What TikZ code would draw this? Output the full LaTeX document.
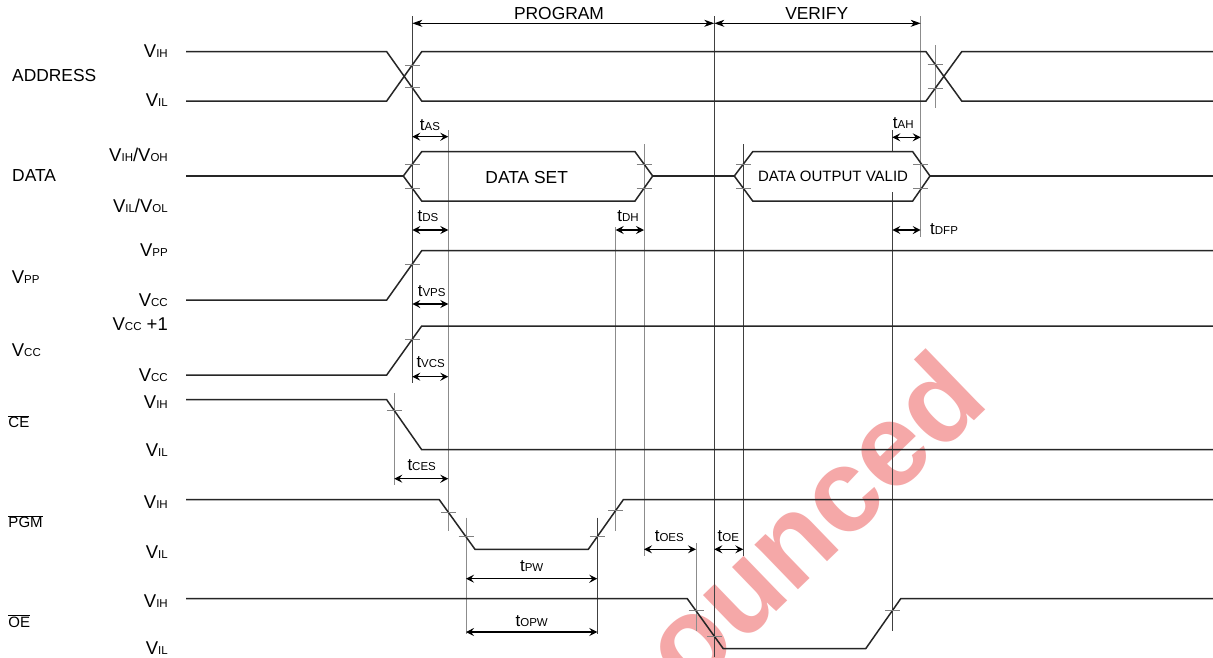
\documentclass[tikz,border=0pt]{standalone}
\usepackage{fontspec}
\setmainfont{Liberation Sans}
\usetikzlibrary{arrows.meta}
\newcommand{\bgf}{\fontsize{18.5}{20}\selectfont}
\newcommand{\smf}{\fontsize{11.5}{13}\selectfont}
\newcommand{\tfn}{\fontsize{17}{18}\selectfont}
\newcommand{\tlab}[1]{{\tfn t}{\smf #1}}
\newcommand{\vlab}[1]{{\bgf V}{\smf #1}}
\newcommand{\ovl}[1]{$\overline{\hbox{#1}}$}
\definecolor{wmcol}{RGB}{245,168,168}
\begin{document}
\begin{tikzpicture}[x=1pt,y=-1pt,
  sigw/.style={line width=1.5pt, draw=black!85, line join=miter},
  vdark/.style={line width=0.8pt, draw=black!75},
  vgrey/.style={line width=1pt, draw=black!45},
  tk/.style={line width=0.8pt, draw=black!50},
  dimarr/.style={line width=1.2pt, {Stealth[length=8pt,width=8pt,inset=3pt]}-{Stealth[length=8pt,width=8pt,inset=3pt]}},
  bigarr/.style={line width=0.9pt, {Stealth[length=10pt,width=7pt,inset=3pt]}-{Stealth[length=10pt,width=7pt,inset=3pt]}},
  lvl/.style={anchor=east, inner sep=0pt},
  signame/.style={anchor=west, inner sep=0pt, font=\fontsize{17.4}{20}\selectfont},
  signamesm/.style={anchor=west, inner sep=0pt, font=\fontsize{15}{17}\selectfont},
  tlbl/.style={inner sep=0pt},
  bigtxt/.style={inner sep=0pt, font=\fontsize{17.4}{20}\selectfont},
  wmark/.style={inner sep=0pt, text=wmcol, font=\fontsize{118}{118}\selectfont\bfseries}
]
\useasboundingbox (0,0) rectangle (1213,657);
\fill[white] (0,0) rectangle (1213,657);

% watermark
\begin{scope}
\clip (0,0) rectangle (1213,657);
\node[wmark, rotate=44, anchor=base west] (wm) at (524,855) {Announced};
\end{scope}

% signal names
\node[signame] (nAddr) at (12,76) {ADDRESS};
\node[signame] (nData) at (12,176) {DATA};
\node[signame] (nVpp) at (11.7,276.7) {\vlab{PP}};
\node[signame] (nVcc) at (11.7,350) {\vlab{CC}};
\node[signamesm] (nCE) at (8.3,421.5) {\ovl{CE}};
\node[signamesm] (nPGM) at (8.3,521.5) {\ovl{PGM}};
\node[signamesm] (nOE) at (8.3,621) {\ovl{OE}};

% level labels
\node[lvl] (l1) at (168,51.5) {\vlab{IH}};
\node[lvl] (l2) at (168,100.5) {\vlab{IL}};
\node[lvl] (l3) at (168,154.7) {\vlab{IH}{\bgf /}\vlab{OH}};
\node[lvl] (l4) at (168,205.5) {\vlab{IL}{\bgf /}\vlab{OL}};
\node[lvl] (l5) at (168,250) {\vlab{PP}};
\node[lvl] (l6) at (168,300) {\vlab{CC}};
\node[lvl] (l7) at (168,324) {\vlab{CC}{\bgf\ +1}};
\node[lvl] (l8) at (168,375) {\vlab{CC}};
\node[lvl] (l9) at (168,401.7) {\vlab{IH}};
\node[lvl] (l10) at (168,450) {\vlab{IL}};
\node[lvl] (l11) at (168,501.7) {\vlab{IH}};
\node[lvl] (l12) at (168,551.7) {\vlab{IL}};
\node[lvl] (l13) at (168,600.7) {\vlab{IH}};
\node[lvl] (l14) at (168,648.3) {\vlab{IL}};

% vertical reference lines
\draw[vdark] (412.3,16) -- (412.3,383);
\draw[vdark] (714.3,16) -- (714.3,657);
\draw[vdark] (743.3,144) -- (743.3,556.3);
\draw[vdark] (892.3,130) -- (892.3,152);
\draw[vdark] (892.3,192) -- (892.3,631);
\draw[vdark] (597.3,517.7) -- (597.3,634);
\draw[vgrey] (448.3,130) -- (448.3,531);
\draw[vgrey] (394.3,393) -- (394.3,485.3);
\draw[vgrey] (615.7,227) -- (615.7,531);
\draw[vgrey] (644,144) -- (644,556);
\draw[vgrey] (466,517.7) -- (466,634);
\draw[vgrey] (696,543) -- (696,631);
\draw[vgrey] (920.7,16) -- (920.7,236.7);
\draw[vgrey] (935,45) -- (935,108.3);

% waveforms
\draw[sigw] (186,51.7) -- (386.7,51.7) -- (421.7,101) -- (926,101) -- (961.7,51.7) -- (1213,51.7);
\draw[sigw] (186,101) -- (386.7,101) -- (421.7,51.7) -- (926,51.7) -- (961.7,101) -- (1213,101);
\draw[sigw] (186,176) -- (403.3,176);
\draw[sigw] (403.3,176) -- (421.7,151.7) -- (635,151.7) -- (652.7,176) -- (635,201) -- (421.7,201) -- cycle;
\draw[sigw] (652.7,176) -- (734.3,176);
\draw[sigw] (734.3,176) -- (752.7,151.7) -- (912.7,151.7) -- (930,176) -- (912.7,201) -- (752.7,201) -- cycle;
\draw[sigw] (930,176) -- (1213,176);
\draw[sigw] (186,300) -- (386.7,300) -- (421.7,250.7) -- (1213,250.7);
\draw[sigw] (186,375) -- (386.7,375) -- (421.7,326) -- (1213,326);
\draw[sigw] (186,399.7) -- (386.7,399.7) -- (421.7,449.7) -- (1213,449.7);
\draw[sigw] (186,499.7) -- (439.3,499.7) -- (475,549.3) -- (588.3,549.3) -- (623.3,499.7) -- (1213,499.7);
\draw[sigw] (186,598.7) -- (687.3,598.7) -- (723.3,648.7) -- (865.7,648.7) -- (900.7,598.7) -- (1213,598.7);

% ticks
\foreach \tx/\ty in {412.3/64.9, 412.3/87.8, 935/64.4, 935/88.3,
  412.3/164, 412.3/188.5, 644/164, 644/188.5, 743.3/164, 743.3/188.5, 920.7/164, 920.7/188.5,
  412.3/264, 412.3/339.2, 394.3/410.6,
  448.3/512.2, 466/536.8, 597.3/536.5, 615.7/510.5,
  696/610.8, 714.3/636.2, 892.3/610.7}
  \draw[tk] (\tx-7.5,\ty) -- (\tx+7.5,\ty);

% phase arrows
\coordinate (pA) at (412.3,23.3);
\coordinate (pB) at (714.3,23.3);
\coordinate (pC) at (920.7,23.3);
\draw[bigarr] (pA) -- (pB);
\draw[bigarr] (pB) -- (pC);
\node[bigtxt] (tProg) at (559,14) {PROGRAM};
\node[bigtxt] (tVer) at (816.7,14) {VERIFY};

% box texts
\node[bigtxt] (tDS1) at (526.7,178) {DATA SET};
\node[inner sep=0pt, font=\fontsize{15}{17}\selectfont] (tDOV) at (833,176.7) {DATA OUTPUT VALID};

% timing dimension arrows
\draw[dimarr] (412.3,136.7) -- (448.3,136.7);
\node[tlbl] (dAS) at (430,125) {\tlab{AS}};
\draw[dimarr] (412.3,230) -- (448.3,230);
\node[tlbl] (dDS) at (428,216) {\tlab{DS}};
\draw[dimarr] (615.7,230) -- (644,230);
\node[tlbl] (dDH) at (628,216) {\tlab{DH}};
\draw[dimarr] (892.3,137.3) -- (920.7,137.3);
\node[tlbl] (dAH) at (903.3,122.7) {\tlab{AH}};
\draw[dimarr] (892.3,230) -- (920.7,230);
\node[tlbl, anchor=west] (dDFP) at (930,229) {\tlab{DFP}};
\draw[dimarr] (412.3,304) -- (448.3,304);
\node[tlbl] (dVPS) at (431.7,290.7) {\tlab{VPS}};
\draw[dimarr] (412.3,376.7) -- (448.3,376.7);
\node[tlbl] (dVCS) at (430.7,362) {\tlab{VCS}};
\draw[dimarr] (394.3,478.7) -- (448.3,478.7);
\node[tlbl] (dCES) at (421.7,465.3) {\tlab{CES}};
\draw[dimarr] (466,578.7) -- (597.3,578.7);
\node[tlbl] (dPW) at (531.7,566.3) {\tlab{PW}};
\draw[dimarr] (466,632) -- (597.3,632);
\node[tlbl] (dOPW) at (531.7,621) {\tlab{OPW}};
\draw[dimarr] (644,549.3) -- (696,549.3);
\node[tlbl] (dOES) at (669.3,536.3) {\tlab{OES}};
\draw[dimarr] (714.3,549.3) -- (743.3,549.3);
\node[tlbl] (dOE) at (728.3,536.3) {\tlab{OE}};
\end{tikzpicture}
\end{document}
